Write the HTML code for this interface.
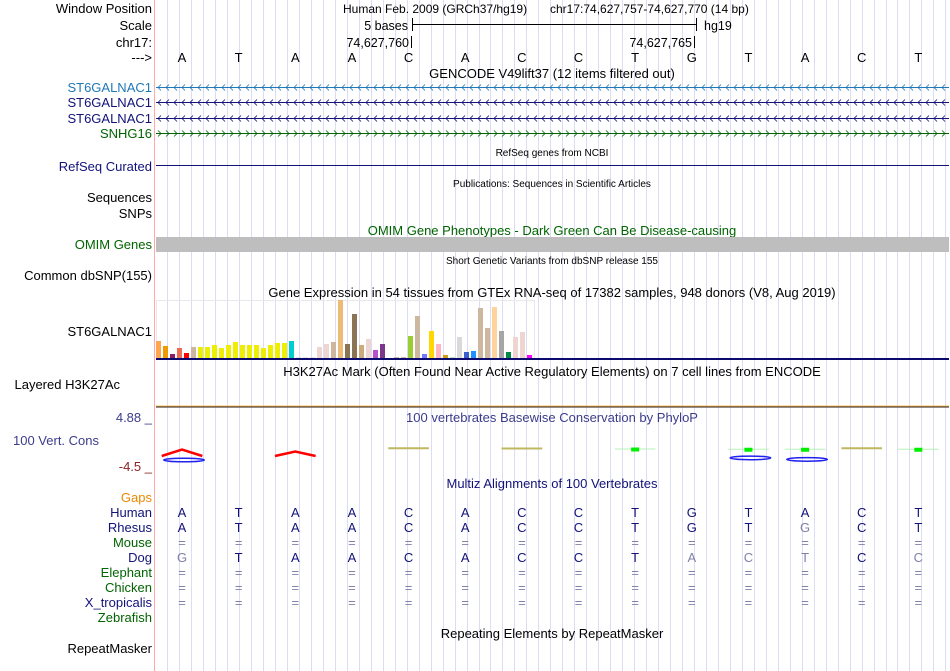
<!DOCTYPE html>
<html><head><meta charset="utf-8">
<style>
html,body{margin:0;padding:0;background:#fff;}
svg{display:block;font-family:"Liberation Sans",Arial,sans-serif;}
</style></head>
<body>
<svg id="s" width="950" height="671" viewBox="0 0 950 671" xmlns="http://www.w3.org/2000/svg">
<g id="grid"></g>
<line x1="154.5" y1="0" x2="154.5" y2="671" stroke="#ffaaaa" stroke-width="1"/>
<g font-size="13" text-anchor="end">
<text x="152" y="13" fill="#000">Window Position</text>
<text x="152" y="30" fill="#000">Scale</text>
<text x="152" y="47" fill="#000">chr17:</text>
<text x="152" y="62" fill="#000">---&gt;</text>
<text x="152" y="92" fill="#1f78b8">ST6GALNAC1</text>
<text x="152" y="107" fill="#12127a">ST6GALNAC1</text>
<text x="152" y="123" fill="#12127a">ST6GALNAC1</text>
<text x="152" y="138" fill="#006400">SNHG16</text>
<text x="152" y="171" fill="#12127a">RefSeq Curated</text>
<text x="152" y="202" fill="#000">Sequences</text>
<text x="152" y="218" fill="#000">SNPs</text>
<text x="152" y="249" fill="#006400">OMIM Genes</text>
<text x="152" y="280" fill="#000">Common dbSNP(155)</text>
<text x="152" y="336" fill="#000">ST6GALNAC1</text>
<text x="120" y="389" fill="#000">Layered H3K27Ac</text>
<text x="152" y="422" fill="#3c3c8c">4.88 _</text>
<text x="99" y="445" fill="#3c3c8c">100 Vert. Cons</text>
<text x="152" y="471" fill="#8b2323">-4.5 _</text>
<text x="152" y="502" fill="#ee8800">Gaps</text>
<text x="152" y="517" fill="#12127a">Human</text>
<text x="152" y="532" fill="#12127a">Rhesus</text>
<text x="152" y="547" fill="#006400">Mouse</text>
<text x="152" y="562" fill="#12127a">Dog</text>
<text x="152" y="577" fill="#006400">Elephant</text>
<text x="152" y="592" fill="#006400">Chicken</text>
<text x="152" y="607" fill="#12127a">X_tropicalis</text>
<text x="152" y="622" fill="#006400">Zebrafish</text>
<text x="152" y="653" fill="#000">RepeatMasker</text>
</g>
<g font-size="13" text-anchor="middle" fill="#000">
<text x="343" y="13" font-size="12" text-anchor="start">Human Feb. 2009 (GRCh37/hg19)</text>
<text x="550" y="13" font-size="12" text-anchor="start">chr17:74,627,757-74,627,770 (14 bp)</text>
<text x="552" y="78">GENCODE V49lift37 (12 items filtered out)</text>
<text x="552" y="156" font-size="10">RefSeq genes from NCBI</text>
<text x="552" y="187" font-size="10">Publications: Sequences in Scientific Articles</text>
<text x="552" y="235" fill="#006400">OMIM Gene Phenotypes - Dark Green Can Be Disease-causing</text>
<text x="552" y="264" font-size="10">Short Genetic Variants from dbSNP release 155</text>
<text x="552" y="297">Gene Expression in 54 tissues from GTEx RNA-seq of 17382 samples, 948 donors (V8, Aug 2019)</text>
<text x="552" y="376">H3K27Ac Mark (Often Found Near Active Regulatory Elements) on 7 cell lines from ENCODE</text>
<text x="552" y="422" fill="#3c3c8c">100 vertebrates Basewise Conservation by PhyloP</text>
<text x="552" y="488" fill="#12127a">Multiz Alignments of 100 Vertebrates</text>
<text x="552" y="638">Repeating Elements by RepeatMasker</text>
</g>
<g font-size="12.5">
<text x="408" y="30" text-anchor="end">5 bases</text>
<line x1="412.5" y1="18" x2="412.5" y2="31" stroke="#000"/>
<line x1="412" y1="24.5" x2="697" y2="24.5" stroke="#000"/>
<line x1="696.5" y1="18" x2="696.5" y2="31" stroke="#000"/>
<text x="704" y="30">hg19</text>
<text x="409" y="47" text-anchor="end">74,627,760</text>
<line x1="411.5" y1="36" x2="411.5" y2="48" stroke="#000"/>
<text x="692" y="47" text-anchor="end">74,627,765</text>
<line x1="694.5" y1="36" x2="694.5" y2="48" stroke="#000"/>
</g>
<g id="bases" font-size="13" text-anchor="middle"></g>
<g id="genes"></g>
<line x1="156" y1="165.5" x2="949" y2="165.5" stroke="#12127a"/>
<rect x="156" y="237" width="793" height="15" fill="#bebebe"/>
<rect x="156.5" y="300.5" width="378" height="58" fill="none" stroke="#e8e8ee"/>
<g id="gtex"></g>
<rect x="156" y="358" width="793" height="2" fill="#0a0a6e"/>
<line x1="156" y1="406" x2="949" y2="406" stroke="#f5c060"/>
<line x1="156" y1="407" x2="949" y2="407" stroke="#2a1a10"/>
<g id="cons"></g>
<g id="multiz" font-size="13" text-anchor="middle"></g>
<script>
const bases = ["A","T","A","A","C","A","C","C","T","G","T","A","C","T"];
const rhesus = ["A","T","A","A","C","A","C","C","T","G","T","g","C","T"];
const dog = ["g","T","A","A","C","A","C","C","T","a","c","t","C","c"];
const gapRows = ["Mouse","Elephant","Chicken","X_tropicalis"];
const gtexValues = [17,12,4,10,5,11,11,11,13,10,13,16,13,13,13,10,13,15,15,17,0.5,0.5,0.5,11,14,16,58,14,44,13,19,8,14,0,1,1,22,42,4,27,14,3,1,21,6,7,50,30,51,27,6,21,26,3];
const gtexColors = ["#FFA54F","#EE9A00","#8B1C62","#EE6A50","#FF0000","#CDB79E","#EEEE00","#EEEE00","#EEEE00","#EEEE00","#EEEE00","#EEEE00","#EEEE00","#EEEE00","#EEEE00","#EEEE00","#EEEE00","#EEEE00","#EEEE00","#00CDCD","#CCCCCC","#CCCCCC","#CCCCCC","#EED5D2","#EED5D2","#CDB79E","#EEBB77","#8B7355","#8B7355","#CDAA7D","#EED5D2","#B452CD","#7A378B","#FFFFFF","#CDB79E","#CDB79E","#9ACD32","#CDB79E","#7777FF","#FFD700","#FFB6C1","#CD9B1D","#B4EEB4","#D9D9D9","#3A5FCD","#1E90FF","#CDB79E","#CDB79E","#FFD39B","#A6A6A6","#008B45","#EED5D2","#EED5D2","#FF00FF"];
const consScores = [2.2,0,1.4,0,0.3,0,0.2,0,0.6,0,0.5,0.5,0.3,0.5];
const consNeg = [-2.0,0,0,0,0,0,0,0,0,0,-0.6,-1.6,0,0];

const NS="http://www.w3.org/2000/svg";
const X0=153.7, BW=56.64;
const bx = i => X0 + BW*i + BW/2;
const gx = i => 156 + 7*i;
const gy = v => 358 - v;
const cy = v => 455 - v*2.5;
function mk(tag, attrs, parent){const e=document.createElementNS(NS,tag);for(const k in attrs)e.setAttribute(k,attrs[k]);parent.appendChild(e);return e;}

const grid=document.getElementById('grid');
for(let x=167.3;x<950;x+=11.97){
  const l=mk('line',{x1:Math.round(x)+0.5,y1:0,x2:Math.round(x)+0.5,y2:671,stroke:'#dcdcf2'},grid);
  
  
}
const bg=document.getElementById('bases');
bases.forEach((b,i)=>{
  const t=mk('text',{x:bx(i),y:62},bg);t.textContent=b;
  
  
});
const genes=document.getElementById('genes');
const geneRows=[[87,'#1f78b8',-1],[102,'#12127a',-1],[118,'#12127a',-1],[133,'#006400',1]];
geneRows.forEach(([y,c,d])=>{
  const g=mk('g',{},genes);
  
  
  mk('line',{x1:156,y1:y+0.5,x2:949,y2:y+0.5,stroke:c},g);
  let p='';
  for(let x=158;x<947;x+=8){p+= d<0?`M${x+3},${y-2.5}L${x},${y+0.5}L${x+3},${y+3.5}`:`M${x},${y-2.5}L${x+3},${y+0.5}L${x},${y+3.5}`;}
  mk('path',{d:p,stroke:c,fill:'none','stroke-width':0.8},g);
});
const gg=document.getElementById('gtex');
gtexValues.forEach((v,i)=>{
  if(v<=0)return;
  const r=mk('rect',{x:gx(i),y:gy(v),width:5,height:v,fill:gtexColors[i]},gg);
  
  
});
const cg=document.getElementById('cons');
consNeg.forEach((v,i)=>{
  if(v===0)return;
  const x1=X0+BW*i+10,x2=X0+BW*(i+1)-6;
  const e=mk('ellipse',{cx:(x1+x2)/2,cy:cy(0)+2-v*1.5,rx:(x2-x1)/2,ry:1.8,stroke:'#2222ee','stroke-width':1.5,fill:'none'},cg);
  
  
});
consScores.forEach((v,i)=>{
  const x1=X0+BW*i+8,x2=X0+BW*(i+1)-8,xm=(x1+x2)/2;
  if(v>1){
    const p=mk('path',{d:`M${x1},${cy(0)+1}L${xm},${cy(v)}L${x2},${cy(0)+1}`,stroke:'#ff0000','stroke-width':2.5,fill:'none'},cg);
    
    
  } else if(v>0.4){
    const l=mk('line',{x1,y1:cy(v)-4.5,x2,y2:cy(v)-4.5,stroke:'#b8f0b8','stroke-width':1},cg);
    
    
    const b=mk('rect',{x:xm-4,y:cy(v)-6,width:8,height:4,fill:'#00ee00'},cg);
    
    
  } else if(v!==0){
    const l=mk('line',{x1,y1:cy(v)-6,x2,y2:cy(v)-6,stroke:'#c0b860','stroke-width':2},cg);
    
    
  }
});
const mz=document.getElementById('multiz');
function row(arr,y){arr.forEach((b,i)=>{
  const gray=b===b.toLowerCase()&&b!=='=';
  const t=mk('text',{x:bx(i),y,fill:(gray||b==='=')?'#8080a8':'#12127a'},mz);
  t.textContent=b.toUpperCase();
  
  
});}
row(bases,517);row(rhesus,532);row(dog,562);
const gapY={Mouse:547,Elephant:577,Chicken:592,X_tropicalis:607};
gapRows.forEach(n=>row(bases.map(()=>'='),gapY[n]));
</script>
</svg>
</body></html>
